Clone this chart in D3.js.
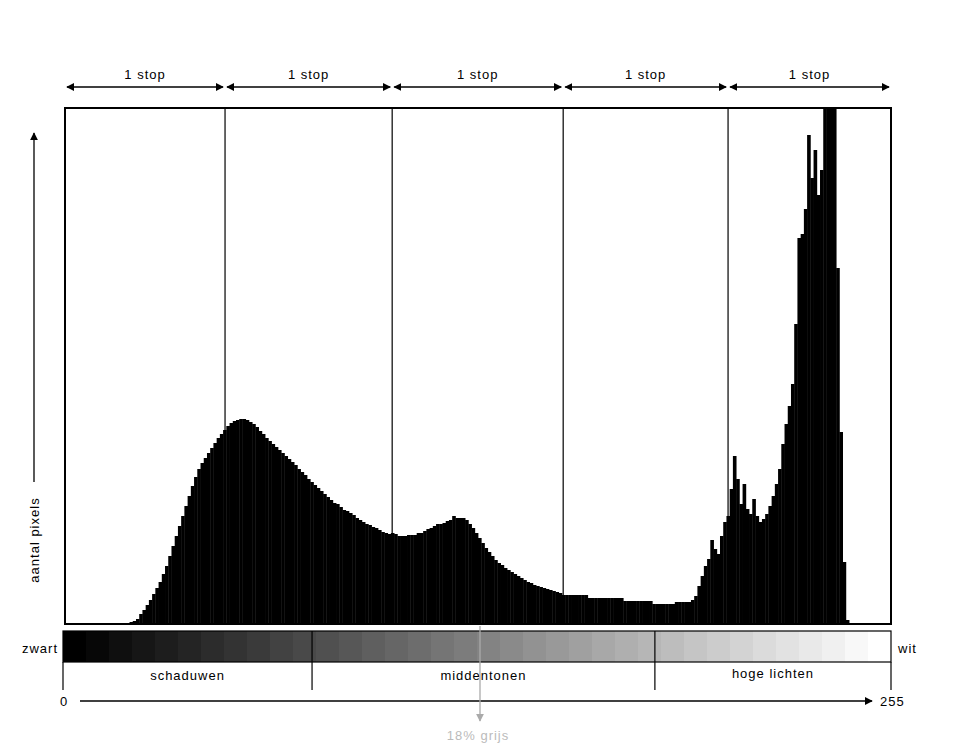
<!DOCTYPE html>
<html><head><meta charset="utf-8">
<script src="https://d3js.org/d3.v7.min.js"></script>
<style>body{margin:0;background:#fff}text{font-family:"Liberation Sans",Arial,sans-serif;font-size:13px;letter-spacing:1px}</style>
</head><body><svg id="c" width="960" height="753"></svg>
<script>
// histogram counts (bin index 0..255), in arbitrary units (top of frame = 516)
const countsStart = 20;
const counts = [2,3,5,10,14,19,24,30,36,42,50,58,68,78,88,98,108,118,128,138,147,155,161,166,171,176,181,186,190,194,198,201,203,204,205,205,204,202,200,197,193,190,186,183,180,177,174,171,168,165,162,159,155,152,149,145,142,139,136,133,130,127,124,121,120,117,114,113,111,109,106,104,102,100,99,97,96,94,92,91,90,91,90,88,88,88,89,89,89,91,91,93,95,96,98,100,100,101,103,104,108,106,106,106,104,100,96,91,86,81,76,72,68,64,61,59,56,54,52,50,48,46,44,42,41,39,38,37,36,35,34,33,32,31,29,29,29,29,29,29,29,29,26,26,26,26,26,26,26,26,26,26,26,23,23,23,23,23,23,23,23,23,20,20,20,20,20,20,20,22,22,22,22,22,24,28,38,48,58,65,84,75,70,88,102,108,135,168,145,120,140,115,110,125,108,102,105,110,118,128,140,155,180,200,218,240,300,386,390,415,489,446,474,429,454,530,530,530,530,356,192,62,4];
const stopLabels = ["1 stop","1 stop","1 stop","1 stop","1 stop"];
const stopBounds = [0,49.6,101.4,154.4,205.5,256];
const zones = ["schaduwen","middentonen","hoge lichten"];
const zoneBounds = [0,77,183,256];
const grayLevels = d3.range(36);
const axisLabels = ["0","255"];

const svg = d3.select("#c");
const x = d3.scaleLinear().domain([0,256]).range([65,891]);
const y = d3.scaleLinear().domain([0,516]).range([624,108]).clamp(true);

// arrowheads
const defs = svg.append("defs");
function marker(id,color){defs.append("marker").attr("id",id).attr("viewBox","0 0 10 10").attr("refX",9).attr("refY",5)
 .attr("markerWidth",8).attr("markerHeight",8).attr("markerUnits","userSpaceOnUse").attr("orient","auto-start-reverse")
 .append("path").attr("d","M0,0L10,5L0,10z").attr("fill",color);}
marker("a","#000"); marker("g","#aaa");

// bars
const bw = x(1)-x(0);
svg.append("g").selectAll("rect").data(counts).join("rect")
 .attr("x",(d,i)=>x(countsStart+i)).attr("width",bw+0.4)
 .attr("y",d=>y(d)).attr("height",d=>624-y(d)).attr("fill","#000");

// stop dividers
svg.append("g").selectAll("line").data(stopBounds.slice(1,-1)).join("line")
 .attr("x1",d=>x(d)).attr("x2",d=>x(d)).attr("y1",108).attr("y2",624).attr("stroke","#000").attr("stroke-width",1.2);
svg.append("rect").attr("x",65).attr("y",108).attr("width",826).attr("height",516).attr("fill","none").attr("stroke","#000").attr("stroke-width",2);

// stop arrows
stopLabels.forEach((t,i)=>{
 const a=x(stopBounds[i])+2,b=x(stopBounds[i+1])-2;
 svg.append("line").attr("x1",a).attr("x2",b).attr("y1",87).attr("y2",87).attr("stroke","#000").attr("stroke-width",1.3)
  .attr("marker-start","url(#a)").attr("marker-end","url(#a)");
 svg.append("text").attr("x",(a+b)/2).attr("y",79).attr("text-anchor","middle").text(t);
});

// gradient bar
const gx = d3.scaleLinear().domain([0,36]).range([63,891]);
svg.append("g").selectAll("rect").data(grayLevels).join("rect")
 .attr("x",d=>gx(d)).attr("width",gx(1)-gx(0)+0.5).attr("y",631).attr("height",31)
 .attr("fill",d=>d3.rgb(d*255/35,d*255/35,d*255/35));
svg.append("rect").attr("x",63).attr("y",631).attr("width",828).attr("height",31).attr("fill","none").attr("stroke","#000").attr("stroke-width",1.2);
const zx = d3.scaleLinear().domain([0,256]).range([63,891]);
svg.append("g").selectAll("line").data(zoneBounds).join("line")
 .attr("x1",d=>zx(d)).attr("x2",d=>zx(d)).attr("y1",(d,i)=>(i==0||i==3)?662:631).attr("y2",690).attr("stroke","#000").attr("stroke-width",1.2);
zones.forEach((t,i)=>svg.append("text").attr("x",(zx(zoneBounds[i])+zx(zoneBounds[i+1]))/2).attr("y",i==2?678:680).attr("text-anchor","middle").text(t));
svg.append("text").attr("x",58).attr("y",653).attr("text-anchor","end").text("zwart");
svg.append("text").attr("x",898).attr("y",653).text("wit");

// axis arrow
svg.append("line").attr("x1",80).attr("x2",872).attr("y1",701).attr("y2",701).attr("stroke","#000").attr("stroke-width",1.3).attr("marker-end","url(#a)");
svg.append("text").attr("x",64).attr("y",706).attr("text-anchor","middle").text(axisLabels[0]);
svg.append("text").attr("x",880).attr("y",706).text(axisLabels[1]);

// 18% grijs
svg.append("line").attr("x1",480).attr("x2",480).attr("y1",626).attr("y2",721).attr("stroke","#aaa").attr("stroke-width",1.3).attr("marker-end","url(#g)");
svg.append("text").attr("x",478).attr("y",740).attr("text-anchor","middle").attr("fill","#bbb").text("18% grijs");

// y label
svg.append("line").attr("x1",34).attr("x2",34).attr("y1",482).attr("y2",133).attr("stroke","#000").attr("stroke-width",1.3).attr("marker-end","url(#a)");
svg.append("text").attr("transform","translate(39,540) rotate(-90)").attr("text-anchor","middle").text("aantal pixels");
</script></body></html>
